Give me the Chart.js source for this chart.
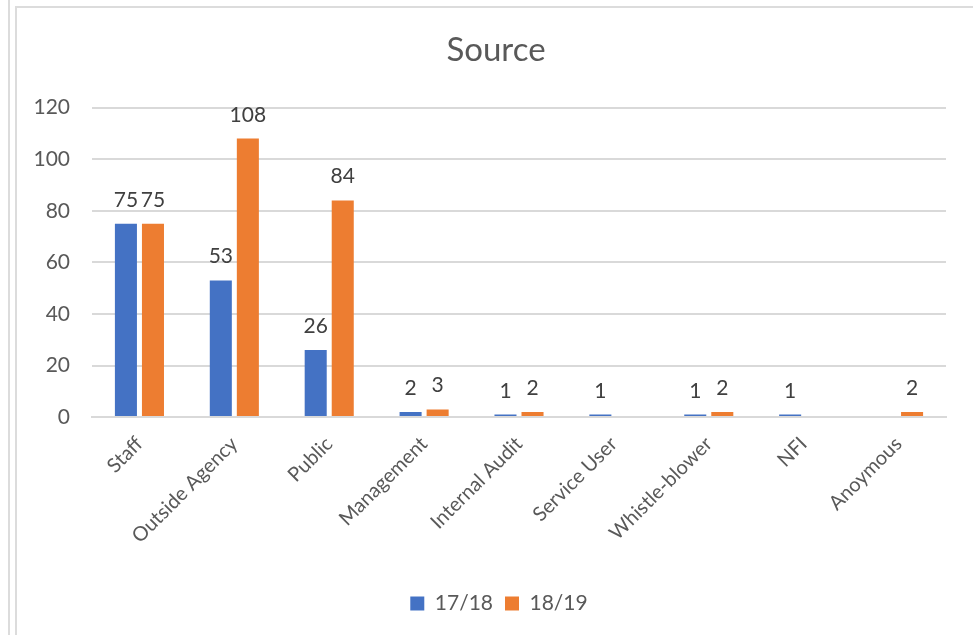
<!DOCTYPE html>
<html>
<head>
<meta charset="utf-8">
<script src="https://cdn.jsdelivr.net/npm/chart.js@4/dist/chart.umd.min.js"></script>
<style>
  html, body { margin: 0; padding: 0; background: #fff; overflow: hidden; }
  body { width: 973px; height: 635px; position: relative; }
  .outer-rule { position: absolute; left: 8px; top: 0; width: 2px; height: 635px; background: #dcdcdc; }
  .frame { position: absolute; left: 15px; top: 6px; width: 970px; height: 640px;
           border-left: 2px solid #dcdcdc; border-top: 2px solid #dcdcdc; box-sizing: border-box; }
  #wrap { position: absolute; left: 17px; top: 8px; width: 958px; height: 627px; }
</style>
</head>
<body>
<div class="outer-rule"></div>
<div class="frame"></div>
<div id="wrap"><canvas id="chart"></canvas></div>
<script>
// Complaint sources, two reporting years
const categories = ['Staff', 'Outside Agency', 'Public', 'Management', 'Internal Audit',
                    'Service User', 'Whistle-blower', 'NFI', 'Anoymous'];
const series1718 = [75, 53, 26, 2, 1, 1, 1, 1, null];
const series1819 = [75, 108, 84, 3, 2, null, 2, null, 2];
const yTicks = [0, 20, 40, 60, 80, 100, 120];

const FONT = 'Lato, "Open Sans", sans-serif';

// Value labels above each bar
const barValueLabels = {
  id: 'barValueLabels',
  afterDatasetsDraw(chart) {
    const ctx = chart.ctx;
    ctx.save();
    ctx.font = '21px ' + FONT;
    ctx.fillStyle = '#404040';
    ctx.textAlign = 'center';
    ctx.textBaseline = 'alphabetic';
    chart.data.datasets.forEach((ds, i) => {
      const meta = chart.getDatasetMeta(i);
      meta.data.forEach((bar, j) => {
        const v = ds.data[j];
        if (v === null || v === undefined) return;
        ctx.fillText(String(v), bar.x, bar.y - 17);
      });
    });
    ctx.restore();
  }
};

// Centre title and legend across the whole chart object, not just the padded box
const centreOnCanvas = {
  id: 'centreOnCanvas',
  afterLayout(chart) {
    const spans = [[chart.titleBlock, 0], [chart.legend, 6]];
    spans.forEach(([box, inset]) => {
      if (!box) return;
      box.left = inset;
      box.right = chart.width;
      box.width = chart.width - inset;
    });
  }
};

new Chart(document.getElementById('chart'), {
  type: 'bar',
  data: {
    labels: categories,
    datasets: [
      { label: '17/18', data: series1718, backgroundColor: '#4472C4',
        categoryPercentage: 0.57, barPercentage: 0.815 },
      { label: '18/19', data: series1819, backgroundColor: '#ED7D31',
        categoryPercentage: 0.57, barPercentage: 0.815 }
    ]
  },
  options: {
    responsive: true,
    maintainAspectRatio: false,
    animation: false,
    layout: { padding: { left: 0, right: 29, top: 0, bottom: 11 } },
    plugins: {
      title: {
        display: true,
        text: 'Source',
        color: '#595959',
        font: { family: FONT, size: 33, weight: 'normal' },
        padding: { top: 23, bottom: 37 }
      },
      legend: {
        position: 'bottom',
        labels: {
          color: '#595959',
          font: { family: FONT, size: 21 },
          boxWidth: 14,
          boxHeight: 14,
          padding: 12
        }
      },
      tooltip: { enabled: false }
    },
    scales: {
      x: {
        grid: { display: false },
        border: { display: true, color: '#d9d9d9', width: 2 },
        afterFit(scale) { scale.height = scale.height + 26; },
        ticks: {
          color: '#595959',
          font: { family: FONT, size: 20 },
          maxRotation: 45,
          minRotation: 45,
          padding: 7,
          autoSkip: false
        }
      },
      y: {
        min: 0,
        max: 120,
        afterBuildTicks(scale) { scale.ticks = yTicks.map(v => ({ value: v })); },
        afterFit(scale) { scale.width = 75; },
        grid: { color: '#d9d9d9', lineWidth: 2, drawTicks: false },
        border: { display: false },
        ticks: {
          color: '#595959',
          font: { family: FONT, size: 21 },
          padding: 22
        }
      }
    }
  },
  plugins: [barValueLabels, centreOnCanvas]
});
</script>
</body>
</html>
